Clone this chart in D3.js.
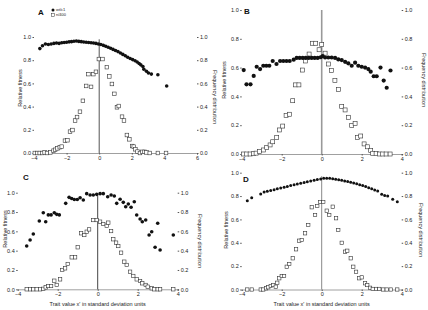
<!DOCTYPE html>
<html>
<head>
<meta charset="utf-8">
<script src="https://cdn.jsdelivr.net/npm/d3@7"></script>
<style>
  body { margin: 0; background: #fff; }
  svg { display: block; font-family: "Liberation Sans", Arial, sans-serif; }
</style>
</head>
<body>
<div id="chart"></div>
<script>
// values: [trait value x', relative fitness] and [x', frequency]
const fitnessA = [[-3.64,0.90],[-3.48,0.925],[-3.3,0.94],[-3.12,0.935],[-2.95,0.94],[-2.78,0.945],[-2.62,0.948],[-2.46,0.945],[-2.3,0.95],[-2.15,0.953],[-2.0,0.955],[-1.85,0.958],[-1.7,0.96],[-1.55,0.963],[-1.4,0.966],[-1.25,0.962],[-1.1,0.96],[-0.95,0.957],[-0.8,0.955],[-0.65,0.952],[-0.5,0.95],[-0.35,0.948],[-0.2,0.945],[-0.05,0.94],[0.1,0.935],[0.25,0.928],[0.4,0.92],[0.55,0.912],[0.7,0.903],[0.85,0.893],[1.0,0.884],[1.15,0.874],[1.3,0.862],[1.45,0.85],[1.6,0.838],[1.75,0.826],[1.9,0.815],[2.05,0.805],[2.2,0.795],[2.33,0.785],[2.45,0.772],[2.55,0.76],[2.68,0.745],[2.74,0.722],[2.9,0.705],[3.02,0.69],[3.2,0.68],[3.6,0.675],[4.14,0.578]];
const freqA = [[-3.95,0],[-3.8,0],[-3.65,0],[-3.5,0],[-3.35,0.005],[-3.2,0],[-3.0,0.005],[-2.8,0.02],[-2.7,0.028],[-2.56,0.04],[-2.42,0.05],[-2.3,0.055],[-2.1,0.106],[-1.95,0.11],[-1.79,0.184],[-1.64,0.198],[-1.48,0.28],[-1.36,0.31],[-1.18,0.356],[-1.0,0.45],[-0.8,0.578],[-0.5,0.57],[-0.66,0.68],[-0.36,0.68],[-0.2,0.70],[-0.02,0.81],[0.2,0.81],[0.47,0.74],[0.62,0.66],[0.78,0.595],[0.93,0.51],[1.09,0.394],[1.2,0.405],[1.4,0.313],[1.52,0.28],[1.7,0.155],[1.85,0.118],[2.02,0.06],[2.12,0.055],[2.22,0.032],[2.35,0.012],[2.5,0],[2.65,0.01],[2.78,0.01],[2.9,0.005],[3.1,0],[3.6,0],[4.1,0]];

const fitnessB = [[-3.9,0.583],[-3.76,0.484],[-3.56,0.484],[-3.4,0.542],[-3.25,0.606],[-3.08,0.59],[-2.92,0.613],[-2.77,0.613],[-2.62,0.613],[-2.45,0.646],[-2.26,0.625],[-2.08,0.646],[-1.92,0.646],[-1.76,0.646],[-1.6,0.646],[-1.4,0.655],[-1.25,0.667],[-1.1,0.667],[-0.95,0.667],[-0.8,0.667],[-0.65,0.667],[-0.5,0.667],[-0.35,0.667],[-0.2,0.667],[-0.05,0.672],[0.05,0.68],[0.17,0.67],[0.33,0.67],[0.5,0.67],[0.67,0.667],[0.83,0.657],[1.0,0.652],[1.17,0.64],[1.33,0.63],[1.5,0.613],[1.67,0.634],[1.83,0.613],[2.0,0.606],[2.17,0.6],[2.33,0.59],[2.45,0.572],[2.6,0.54],[2.75,0.54],[2.94,0.6],[3.1,0.51],[3.25,0.46],[3.44,0.58]];
const freqB = [[-3.92,0],[-3.75,0],[-3.58,0],[-3.42,0.002],[-3.28,0.006],[-3.12,0.016],[-2.92,0.028],[-2.75,0.044],[-2.58,0.063],[-2.45,0.085],[-2.25,0.116],[-2.12,0.167],[-1.95,0.194],[-1.78,0.266],[-1.62,0.276],[-1.45,0.37],[-1.31,0.48],[-1.14,0.48],[-0.96,0.583],[-0.82,0.646],[-0.63,0.694],[-0.47,0.769],[-0.3,0.769],[-0.13,0.724],[0.0,0.76],[0.17,0.70],[0.33,0.625],[0.49,0.58],[0.66,0.51],[0.84,0.449],[1.0,0.33],[1.17,0.306],[1.33,0.255],[1.5,0.197],[1.67,0.213],[1.78,0.116],[1.95,0.125],[2.12,0.07],[2.28,0.05],[2.45,0.023],[2.55,0.005],[2.72,0.003],[2.88,0],[3.05,0],[3.22,0],[3.42,0]];

const fitnessC = [[-3.55,0.448],[-3.38,0.51],[-3.22,0.572],[-2.92,0.707],[-2.72,0.793],[-2.6,0.70],[-2.47,0.77],[-2.33,0.77],[-2.17,0.793],[-2.05,0.776],[-1.92,0.77],[-1.6,0.89],[-1.43,0.952],[-1.3,0.94],[-1.17,0.93],[-1.02,0.93],[-0.88,0.948],[-0.72,0.924],[-0.55,0.99],[-0.38,0.976],[-0.22,0.976],[-0.05,0.983],[0.12,0.99],[0.28,0.99],[0.5,0.958],[0.67,0.976],[0.83,0.966],[0.95,0.89],[1.12,0.932],[1.28,0.90],[1.4,0.855],[1.53,0.883],[1.67,0.849],[1.83,0.907],[1.95,0.769],[2.12,0.728],[2.23,0.70],[2.4,0.717],[2.57,0.562],[2.7,0.596],[2.87,0.435],[3.0,0.683],[3.12,0.407],[3.78,0.562]];
const freqC = [[-3.55,0],[-3.38,0],[-3.22,0],[-3.05,0],[-2.88,0],[-2.72,0.005],[-2.6,0.02],[-2.47,0.034],[-2.33,0.034],[-2.17,0.089],[-2.05,0.045],[-1.88,0.103],[-1.77,0.2],[-1.63,0.217],[-1.5,0.262],[-1.3,0.331],[-1.13,0.331],[-1.0,0.435],[-0.83,0.58],[-0.67,0.562],[-0.55,0.596],[-0.43,0.62],[-0.22,0.717],[-0.05,0.717],[0.12,0.7],[0.28,0.676],[0.45,0.658],[0.53,0.69],[0.67,0.603],[0.78,0.518],[0.92,0.483],[1.03,0.448],[1.17,0.379],[1.33,0.286],[1.45,0.252],[1.62,0.182],[1.78,0.138],[1.95,0.103],[2.12,0.086],[2.23,0.062],[2.4,0.045],[2.5,0.027],[2.7,0.01],[2.83,0],[3.0,0],[3.12,0],[3.78,0]];

const fitnessD = [[-3.72,0.76],[-3.5,0.786],[-3.05,0.818],[-2.88,0.835],[-2.72,0.842],[-2.55,0.848],[-2.38,0.855],[-2.22,0.862],[-2.05,0.868],[-1.88,0.875],[-1.72,0.882],[-1.55,0.89],[-1.38,0.897],[-1.22,0.903],[-1.05,0.91],[-0.88,0.917],[-0.72,0.923],[-0.55,0.93],[-0.38,0.936],[-0.22,0.942],[-0.05,0.946],[0.1,0.952],[0.25,0.952],[0.4,0.952],[0.55,0.948],[0.7,0.944],[0.85,0.94],[1.0,0.935],[1.15,0.93],[1.3,0.924],[1.45,0.918],[1.6,0.912],[1.75,0.905],[1.9,0.897],[2.05,0.89],[2.2,0.882],[2.35,0.872],[2.5,0.862],[2.65,0.852],[2.8,0.843],[3.0,0.815],[3.15,0.805],[3.3,0.80],[3.55,0.772],[3.78,0.752]];
const freqD = [[-3.72,0],[-3.5,0],[-3.05,0],[-2.92,0],[-2.78,0.01],[-2.67,0.019],[-2.55,0.03],[-2.42,0.038],[-2.3,0.024],[-2.22,0.058],[-2.12,0.096],[-2.0,0.116],[-1.88,0.116],[-1.75,0.195],[-1.62,0.218],[-1.45,0.267],[-1.28,0.344],[-1.12,0.418],[-1.0,0.424],[-0.83,0.481],[-0.67,0.552],[-0.5,0.704],[-0.33,0.638],[-0.22,0.715],[-0.08,0.749],[0.08,0.749],[0.25,0.675],[0.38,0.638],[0.55,0.709],[0.72,0.61],[0.83,0.509],[1.0,0.40],[1.17,0.324],[1.28,0.332],[1.45,0.267],[1.58,0.195],[1.72,0.152],[1.88,0.096],[2.0,0.104],[2.17,0.053],[2.28,0.038],[2.42,0.015],[2.55,0.005],[2.72,0.005],[2.88,0.005],[3.08,0],[3.25,0],[3.45,0],[3.78,0]];

const xTicksA = [-4, -2, 0, 2, 4, 6];
const xTicks = [-4, -2, 0, 2, 4];
const yTicks = [0, 0.2, 0.4, 0.6, 0.8, 1.0];
const legendLabels = ["wt/c1", "n/400"];
const xTitle = "Trait value x' in standard deviation units";
const yTitleLeft = "Relative fitness";
const yTitleRight = "Frequency distribution";

const width = 428;
const height = 310;

const svg = d3.select("#chart")
    .append("svg")
    .attr("width", width)
    .attr("height", height);

// layout for each panel
const panels = [
    { name: "A", fit: fitnessA, freq: freqA, xDomain: [-4, 6], ticks: xTicksA,
      xRange: [34, 197], yRange: [153, 37], zeroTop: 0.98, zeroColor: "#555", zeroWidth: 1,
      letter: [38, 15], leftTitle: [20, 88], rightTitle: [215, 97], xTitleY: null, r: 1.8, sq: 3.6 },
    { name: "B", fit: fitnessB, freq: freqB, xDomain: [-4, 4], ticks: xTicks,
      xRange: [241.7, 401.7], yRange: [154, 10], zeroTop: 1.0, zeroColor: "#999", zeroWidth: 1.6,
      letter: [244, 14], leftTitle: [224, 80], rightTitle: [424, 80], xTitleY: null, r: 2.1, sq: 4 },
    { name: "C", fit: fitnessC, freq: freqC, xDomain: [-4, 4], ticks: xTicks,
      xRange: [17.7, 177.7], yRange: [289.3, 192.7], zeroTop: 0.975, zeroColor: "#444", zeroWidth: 1,
      letter: [23, 180], leftTitle: [5, 229], rightTitle: [200, 241], xTitleY: 306, r: 1.8, sq: 3.4 },
    { name: "D", fit: fitnessD, freq: freqD, xDomain: [-4, 4], ticks: xTicks,
      xRange: [241.7, 401.7], yRange: [289.5, 172.7], zeroTop: 0.97, zeroColor: "#888", zeroWidth: 1,
      letter: [243, 182], leftTitle: [226, 230], rightTitle: [421, 230], xTitleY: 306, r: 1.5, sq: 3.3 }
];

function styleAxis(axisG) {
    axisG.attr("font-size", null).attr("font-family", null);
    axisG.selectAll("text").style("font-size", "5.5px").attr("fill", "#222");
    axisG.selectAll(".tick line").attr("stroke", "#555");
}

function drawPanel(p) {
    const x = d3.scaleLinear().domain(p.xDomain).range(p.xRange);
    const y = d3.scaleLinear().domain([0, 1]).range(p.yRange);
    const g = svg.append("g");

    // bottom axis
    const xAxis = g.append("g")
        .attr("transform", `translate(0,${y(0)})`)
        .call(d3.axisBottom(x).tickValues(p.ticks).tickSize(1.5).tickPadding(1.5).tickFormat(d3.format("d")));
    styleAxis(xAxis);
    xAxis.select(".domain").attr("stroke", "#a0a0a0");

    // left and right value axes, no axis line
    const left = g.append("g")
        .attr("transform", `translate(${x(p.xDomain[0])},0)`)
        .call(d3.axisLeft(y).tickValues(yTicks).tickSize(1.5).tickPadding(1.5).tickFormat(d3.format(".1f")));
    left.select(".domain").remove();
    styleAxis(left);

    const right = g.append("g")
        .attr("transform", `translate(${x(p.xDomain[1])},0)`)
        .call(d3.axisRight(y).tickValues(yTicks).tickSize(1.5).tickPadding(1.5).tickFormat(d3.format(".1f")));
    right.select(".domain").remove();
    styleAxis(right);

    // vertical line at x' = 0
    g.append("line")
        .attr("x1", x(0)).attr("x2", x(0))
        .attr("y1", y(p.zeroTop)).attr("y2", y(0))
        .attr("stroke", p.zeroColor)
        .attr("stroke-width", p.zeroWidth);

    // frequency distribution (open squares)
    g.selectAll(".sq")
        .data(p.freq)
        .enter()
        .append("rect")
        .attr("x", d => x(d[0]) - p.sq / 2)
        .attr("y", d => y(d[1]) - p.sq / 2)
        .attr("width", p.sq)
        .attr("height", p.sq)
        .attr("fill", "#fff")
        .attr("stroke", "#333")
        .attr("stroke-width", 0.6);

    // relative fitness (filled circles)
    g.selectAll(".dot")
        .data(p.fit)
        .enter()
        .append("circle")
        .attr("cx", d => x(d[0]))
        .attr("cy", d => y(d[1]))
        .attr("r", p.r)
        .attr("fill", "#111");

    // panel letter
    g.append("text")
        .attr("x", p.letter[0]).attr("y", p.letter[1])
        .text(p.name)
        .style("font-size", "8px")
        .style("font-weight", "bold")
        .attr("fill", "#111");

    // axis titles
    g.append("text")
        .attr("transform", `translate(${p.leftTitle[0]},${p.leftTitle[1]}) rotate(-90)`)
        .attr("text-anchor", "middle")
        .attr("dy", "0.35em")
        .text(yTitleLeft)
        .style("font-size", "5.5px")
        .attr("fill", "#222");

    g.append("text")
        .attr("transform", `translate(${p.rightTitle[0]},${p.rightTitle[1]}) rotate(90)`)
        .attr("text-anchor", "middle")
        .attr("dy", "0.35em")
        .text(yTitleRight)
        .style("font-size", "5.5px")
        .attr("fill", "#222");

    if (p.xTitleY) {
        g.append("text")
            .attr("x", x(0)).attr("y", p.xTitleY)
            .attr("text-anchor", "middle")
            .text(xTitle)
            .style("font-size", "5.5px")
            .attr("fill", "#222");
    }
}

panels.forEach(drawPanel);

// legend of panel A
const legend = svg.append("g").attr("transform", "translate(53,10)");
legend.append("circle").attr("cx", 0).attr("cy", 0).attr("r", 1.5).attr("fill", "#111");
legend.append("rect").attr("x", -1.5).attr("y", 3.5).attr("width", 3).attr("height", 3)
    .attr("fill", "#fff").attr("stroke", "#333").attr("stroke-width", 0.5);
legend.selectAll(".lab")
    .data(legendLabels)
    .enter()
    .append("text")
    .attr("x", 3)
    .attr("y", (d, i) => i * 5)
    .attr("dy", "0.35em")
    .text(d => d)
    .style("font-size", "4px")
    .attr("fill", "#222");
</script>
</body>
</html>
